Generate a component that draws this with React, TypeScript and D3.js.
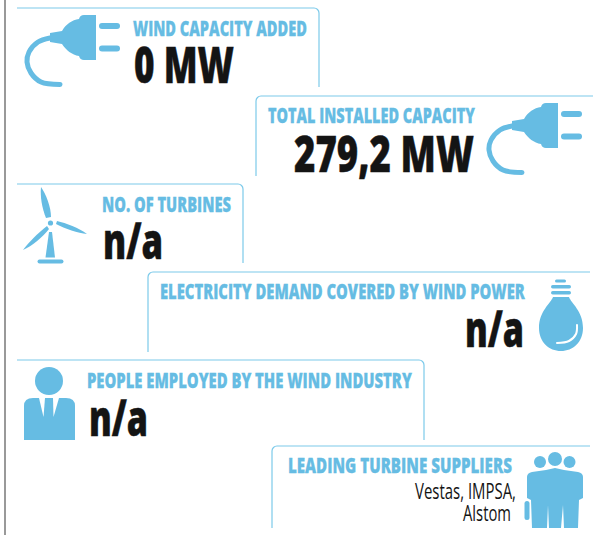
import React, { useLayoutEffect, useRef } from 'react';
import * as d3 from 'd3';

// card contents
const titles = [
  'WIND CAPACITY ADDED',
  'TOTAL INSTALLED CAPACITY',
  'NO. OF TURBINES',
  'ELECTRICITY DEMAND COVERED BY WIND POWER',
  'PEOPLE EMPLOYED BY THE WIND INDUSTRY',
  'LEADING TURBINE SUPPLIERS',
];
const values = ['0 MW', '279,2 MW', 'n/a', 'n/a', 'n/a', ''];
const suppliers = ['Vestas, IMPSA,', 'Alstom'];

const BLUE = '#66bce3';
const LINE = '#7ccaea';
const INK = '#141414';
const FONT = '"Open Sans", sans-serif';

// layout of each card, kept apart from the content
const cards = [
  { side: 'left', x0: 17, x1: 319, top: 8, bottom: 87, tx: 133, tw: 174, ty: 36, vx: 134, vw: 100, vy: 83 },
  { side: 'right', x0: 256, x1: 593, top: 96, bottom: 176, tx: 268, tw: 207, ty: 123, vx: 294, vw: 180, vy: 172 },
  { side: 'left', x0: 17, x1: 243, top: 184, bottom: 263, tx: 102, tw: 129, ty: 212, vx: 103, vw: 60, vy: 259 },
  { side: 'right', x0: 148, x1: 590, top: 272, bottom: 352, tx: 160, tw: 365, ty: 299, vx: 465, vw: 59, vy: 347 },
  { side: 'left', x0: 17, x1: 424, top: 360, bottom: 440, tx: 87, tw: 325, ty: 388, vx: 89, vw: 59, vy: 436 },
  { side: 'right', x0: 272, x1: 590, top: 446, bottom: 528, tx: 288, tw: 224, ty: 473, vx: 0, vw: 0, vy: 0 },
];
const supplierLayout = [
  { x: 415, w: 101, y: 499 },
  { x: 463, w: 48, y: 521 },
];

function cardPath(c: (typeof cards)[number]) {
  const r = 5;
  const p = d3.path();
  if (c.side === 'left') {
    p.moveTo(c.x0, c.top);
    p.lineTo(c.x1 - r, c.top);
    p.arcTo(c.x1, c.top, c.x1, c.top + r, r);
    p.lineTo(c.x1, c.bottom);
  } else {
    p.moveTo(c.x0, c.bottom);
    p.lineTo(c.x0, c.top + r);
    p.arcTo(c.x0, c.top, c.x0 + r, c.top, r);
    p.lineTo(c.x1, c.top);
  }
  return p.toString();
}

const open = d3.line().curve(d3.curveCatmullRom.alpha(0.5));
const poly = (pts: [number, number][]) => d3.line()(pts) + 'Z';

// the source face is a condensed one, so squeeze the text to its measured width
function FitText({ x, y, w, size, weight, fill, bold = 0, children }: any) {
  const ref = useRef<SVGTextElement>(null);
  useLayoutEffect(() => {
    const el = ref.current;
    if (!el) return;
    const natural = el.getComputedTextLength();
    d3.select(el).attr('transform', `translate(${x},${y}) scale(${w / natural},1)`);
  }, [x, y, w]);
  return (
    <text
      ref={ref}
      fontFamily={FONT}
      fontWeight={weight}
      fontSize={size}
      fill={fill}
      stroke={bold ? fill : 'none'}
      strokeWidth={bold}
    >
      {children}
    </text>
  );
}

// plug drawn in the position of the first card, the second is a translated copy
function Plug({ dx = 0, dy = 0 }) {
  return (
    <g transform={`translate(${dx},${dy})`} fill={BLUE}>
      <path
        d={open([[50, 38], [38, 42], [29, 52], [27, 62], [31, 73], [41, 82], [60, 84.5]] as [number, number][])!}
        fill="none" stroke={BLUE} strokeWidth={5} strokeLinecap="round"
      />
      <path d="M50 33 L62 31 C66 24 72 20 79 19 Q80 15 84 15 L96 15 L96 60 L84 60 Q80 60 79 56 C72 55 66 50 62 44 L50 42 Z" />
      <rect x={99} y={23} width={21} height={6} rx={3} />
      <rect x={99} y={45.5} width={21} height={6} rx={3} />
    </g>
  );
}

function Turbine() {
  return (
    <g fill={BLUE}>
      <path d="M41 187 C46 194 51 207 51 217 L46 218 C42 208 40 196 41 187 Z" />
      <path d="M87 234 C78 233 65 229 56 224 L57 221 C66 223 79 228 87 234 Z" />
      <path d="M23 250 C28 243 38 233 47 226 L49 229 C43 237 32 246 23 250 Z" />
      <circle cx={50.5} cy={223} r={2.6} />
      <path d={poly([[49, 232], [52, 232], [55, 257.5], [45.5, 257.5]])} />
      <rect x={37.5} y={259.5} width={26} height={4} rx={2} />
    </g>
  );
}

function Bulb() {
  return (
    <g fill={BLUE}>
      <rect x={555} y={279.5} width={11} height={3} rx={1.5} />
      <rect x={551} y={285} width={20} height={3.5} rx={1.7} />
      <rect x={551} y={291} width={20} height={3.5} rx={1.7} />
      <path d="M553 297 L569 297 C571 303 583 311 583 328 C583 342 573 351 561 351 C549 351 539 342 539 328 C539 311 551 303 553 297 Z" />
      <path
        d={open([[577, 325], [576, 334], [569, 341], [557, 343]] as [number, number][])!}
        fill="none" stroke="#fff" strokeWidth={2} strokeLinecap="round"
      />
    </g>
  );
}

function Person() {
  return (
    <g>
      <circle cx={49} cy={381} r={14} fill={BLUE} />
      <path fill={BLUE} d="M24 440 L24 406 Q24 398 33 398 L66 398 Q75 398 75 406 L75 440 Z" />
      <path fill="#fff" d={poly([[39, 398], [45, 398], [43.5, 417]])} />
      <path fill="#fff" d={poly([[53, 398], [59, 398], [53.5, 417]])} />
    </g>
  );
}

function Group() {
  return (
    <g fill={BLUE}>
      <circle cx={540} cy={462} r={6} />
      <circle cx={555} cy={459} r={7} />
      <circle cx={569.5} cy={462} r={6} />
      <path d="M527 477 Q527 473 532 472 L546 470 L555 468 L564 470 L578 472 Q583 473 583 477 L583 498 L579 500 L578 528 L564 528 L563 505 L561 528 L549 528 L548 505 L547 528 L532 528 L531 500 L527 498 Z" />
      <rect x={524.5} y={501} width={5} height={19} rx={2.5} />
    </g>
  );
}

export default function App() {
  const width = 593;
  const height = 535;
  return (
    <svg
      width={width}
      height={height}
      viewBox={`0 0 ${width} ${height}`}
      style={{ position: 'absolute', left: 0, top: 0, background: '#fff' }}
    >
      {/* rule down the left edge of the page */}
      <line x1={5} x2={5} y1={0} y2={height} stroke="#777" strokeWidth={1.5} />

      {cards.map((c, i) => (
        <g key={titles[i]}>
          <path d={cardPath(c)} fill="none" stroke={LINE} strokeWidth={1.2} />
          <FitText x={c.tx} y={c.ty} w={c.tw} size={21} weight={800} fill={BLUE} bold={0.3}>
            {titles[i]}
          </FitText>
          {values[i] && (
            <FitText x={c.vx} y={c.vy} w={c.vw} size={50} weight={800} fill={INK} bold={0.5}>
              {values[i]}
            </FitText>
          )}
        </g>
      ))}

      {suppliers.map((s, i) => (
        <FitText key={s} x={supplierLayout[i].x} y={supplierLayout[i].y} w={supplierLayout[i].w} size={21} weight={400} fill={INK}>
          {s}
        </FitText>
      ))}

      <Plug />
      <Plug dx={462} dy={88} />
      <Turbine />
      <Bulb />
      <Person />
      <Group />
    </svg>
  );
}
